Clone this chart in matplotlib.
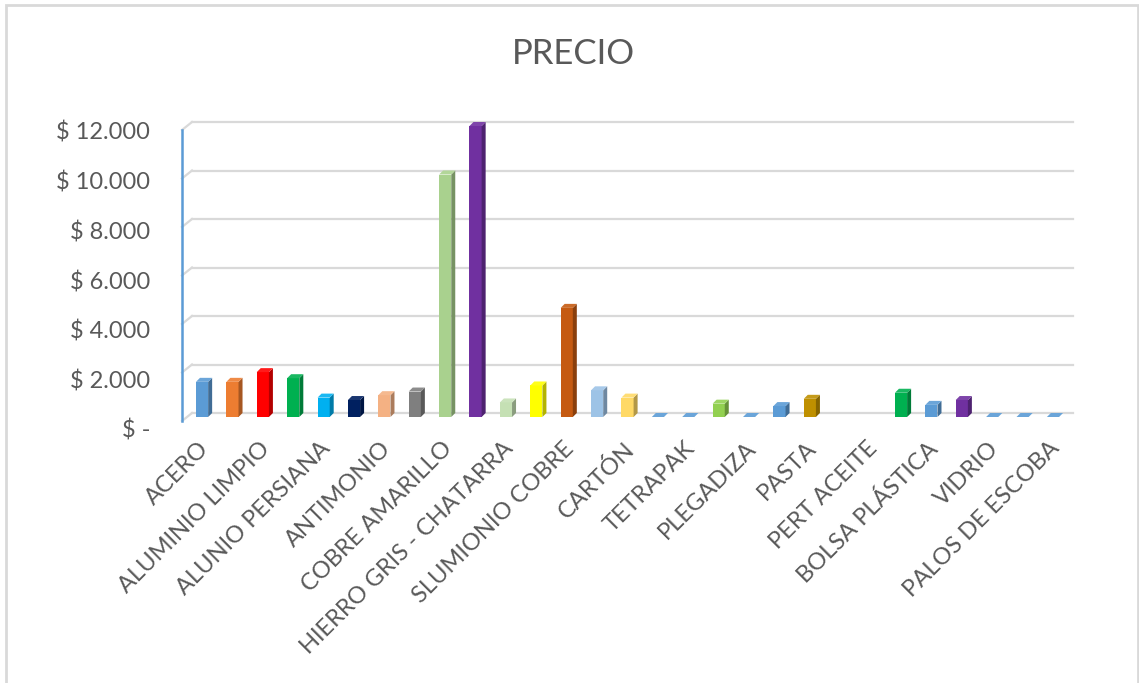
import matplotlib
matplotlib.use("Agg")
import matplotlib.pyplot as plt
import matplotlib.colors as mcolors
import matplotlib.transforms as mtransforms
from matplotlib.patches import Polygon, Rectangle
import numpy as np

plt.rcParams['font.family'] = ['Lato', 'DejaVu Sans']

# data (every other category is labelled)
labels = ['ACERO', 'ALUMINIO LIMPIO', 'ALUNIO PERSIANA', 'ANTIMONIO',
          'COBRE AMARILLO', 'HIERRO GRIS - CHATARRA', 'SLUMIONIO COBRE',
          'CARTÓN', 'TETRAPAK', 'PLEGADIZA', 'PASTA', 'PERT ACEITE',
          'BOLSA PLÁSTICA', 'VIDRIO', 'PALOS DE ESCOBA']
values = [1450, 1450, 1850, 1600, 800, 700, 900, 1050, 10000, 12000,
          600, 1300, 4500, 1100, 800, 0, 0, 550, 0, 450,
          750, np.nan, np.nan, 1000, 500, 700, 0, 0, 0]
colors = ['#5B9BD5', '#ED7D31', '#FF0000', '#00B050', '#00B0F0', '#002060',
          '#F4B183', '#7F7F7F', '#A9D18E', '#7030A0', '#C5E0B4', '#FFFF00',
          '#C55A11', '#9DC3E6', '#FFD966', '#5B9BD5', '#5B9BD5', '#92D050',
          '#5B9BD5', '#5B9BD5', '#BF9000', '#5B9BD5', '#5B9BD5', '#00B050',
          '#5B9BD5', '#7030A0', '#5B9BD5', '#5B9BD5', '#5B9BD5']
y_ticks = [0, 2000, 4000, 6000, 8000, 10000, 12000]

text_col = '#595959'
grid_col = '#D9D9D9'


def money(v):
    if v == 0:
        return '$ -'
    return '$ {:,}'.format(v).replace(',', '.')


W, H = 1139, 683
fig = plt.figure(figsize=(W / 100, H / 100), dpi=100)
ax = fig.add_axes([182 / W, (H - 417) / H, 881 / W, 291 / H])
x0, x1 = -0.66, 28.33
ax.set_xlim(x0, x1)
ax.set_ylim(0, 12000)
for s in ax.spines.values():
    s.set_visible(False)
ax.set_yticks([])

ux = 881 / (x1 - x0)   # pixels per category
uy = 291 / 12000       # pixels per peso


def px(dx, dy):
    return dx / ux, dy / uy


# back wall gridlines + left wall diagonals
gdx, gdy = px(10, 4)
for v in y_ticks:
    ax.plot([x0 + gdx, x1 + gdx], [v + gdy, v + gdy], color=grid_col,
            lw=1.6, clip_on=False, zorder=1)
    ax.plot([x0, x0 + gdx], [v - gdy, v + gdy], color=grid_col,
            lw=1.6, clip_on=False, zorder=1)
    off = (7 + 7 * (1 - v / 12000)) / uy
    ax.text(x0 - 32 / ux, v - off, money(v), ha='right', va='center',
            fontsize=17, color=text_col, clip_on=False)

ax.plot([x0, x0], [-gdy, 12000 - gdy], color='#5B9BD5', lw=1.8,
        clip_on=False, zorder=2)

# bars with a little 3D side and top
xs = np.arange(len(values))
vals = np.array(values, dtype=float)
ok = ~np.isnan(vals)
w = 0.4
ax.bar(xs[ok], vals[ok], width=w, color=[colors[i] for i in xs[ok]],
       zorder=3, clip_on=False)
ddx, ddy = px(4, 4)
for i in xs[ok]:
    v = vals[i]
    rgb = np.array(mcolors.to_rgb(colors[i]))
    side = rgb * 0.7
    top = rgb * 0.9 + 0.1
    r = i + w / 2
    l = i - w / 2
    ax.add_patch(Polygon([(r, 0), (r + ddx, ddy), (r + ddx, v + ddy), (r, v)],
                         closed=True, facecolor=side, edgecolor='none',
                         zorder=3, clip_on=False))
    ax.add_patch(Polygon([(l, v), (r, v), (r + ddx, v + ddy), (l + ddx, v + ddy)],
                         closed=True, facecolor=top, edgecolor='none',
                         zorder=3, clip_on=False))

ax.set_xticks(xs[::2], labels, rotation=45, ha='right', va='top',
              rotation_mode='anchor', fontsize=17, color=text_col)
ax.tick_params(axis='x', length=0, pad=15)
shift = mtransforms.ScaledTranslation(-4 / 100, 0, fig.dpi_scale_trans)
for lab in ax.get_xticklabels():
    lab.set_transform(lab.get_transform() + shift)

fig.text(573 / W, 1 - 54 / H, 'PRECIO', ha='center', va='center',
         fontsize=25, color=text_col)

fig.add_artist(Rectangle((6 / W, -0.05), (1138 - 6) / W, 1.05 - 5 / H,
                         transform=fig.transFigure, fill=False,
                         edgecolor=grid_col, lw=2))

fig.savefig('out.png', dpi=100)
